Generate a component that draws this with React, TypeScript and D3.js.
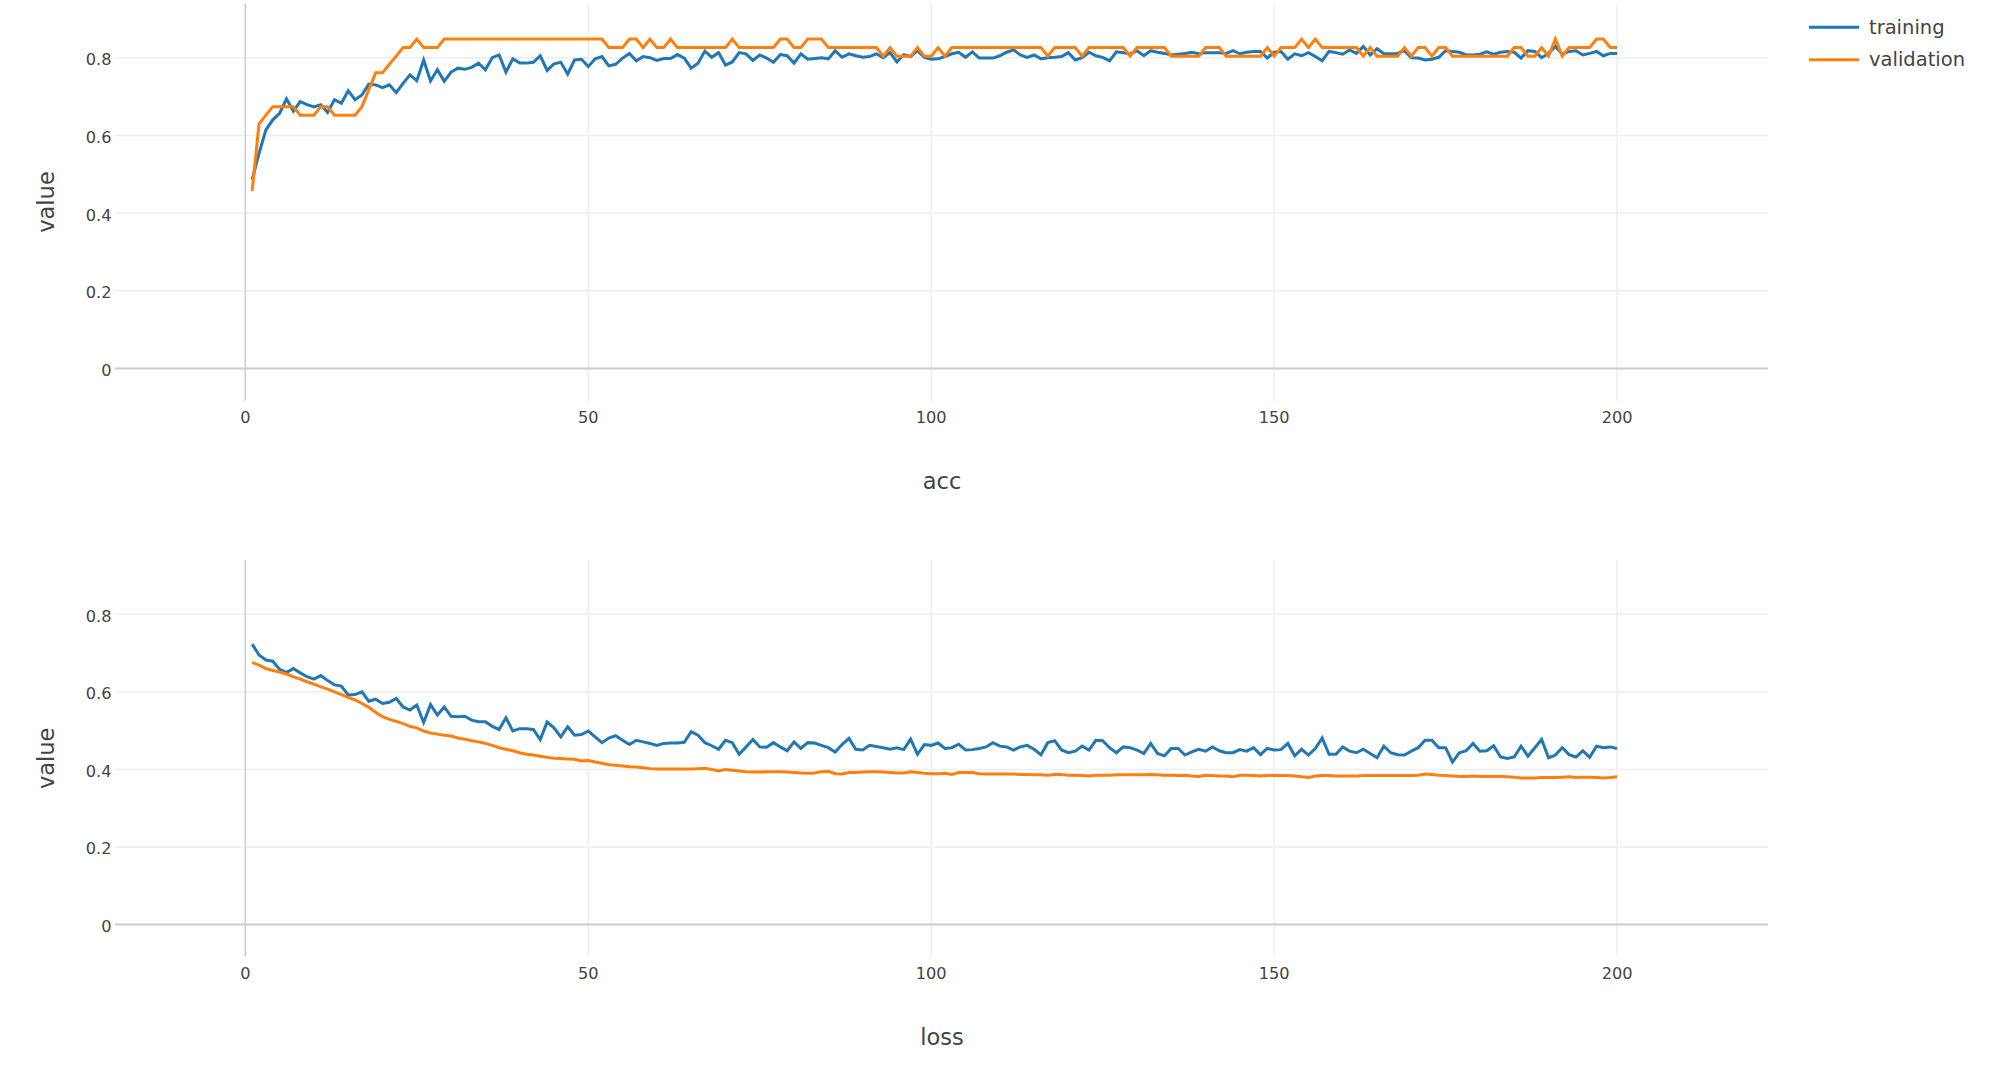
import React from "react";
import * as d3 from "d3";

const epochs: number[] = Array.from({ length: 200 }, (_, i) => i + 1);

const accTraining: number[] = [
  0.486, 0.554, 0.614, 0.640, 0.657, 0.694, 0.662, 0.687, 0.679, 0.673,
  0.679, 0.659, 0.692, 0.683, 0.715, 0.692, 0.704, 0.732, 0.730, 0.723,
  0.730, 0.710, 0.734, 0.756, 0.741, 0.794, 0.740, 0.769, 0.739, 0.763,
  0.773, 0.770, 0.775, 0.786, 0.769, 0.800, 0.807, 0.763, 0.797, 0.786,
  0.786, 0.788, 0.805, 0.767, 0.784, 0.788, 0.758, 0.794, 0.796, 0.777,
  0.797, 0.803, 0.779, 0.783, 0.799, 0.811, 0.792, 0.803, 0.800, 0.793,
  0.798, 0.798, 0.808, 0.799, 0.773, 0.786, 0.817, 0.801, 0.813, 0.781,
  0.789, 0.813, 0.810, 0.793, 0.807, 0.799, 0.788, 0.808, 0.805, 0.786,
  0.810, 0.796, 0.798, 0.800, 0.797, 0.818, 0.801, 0.810, 0.805, 0.801,
  0.803, 0.810, 0.800, 0.813, 0.789, 0.808, 0.803, 0.818, 0.801, 0.796,
  0.797, 0.803, 0.810, 0.814, 0.801, 0.815, 0.799, 0.799, 0.799, 0.805,
  0.814, 0.820, 0.807, 0.801, 0.807, 0.797, 0.800, 0.801, 0.803, 0.813,
  0.794, 0.800, 0.814, 0.805, 0.801, 0.792, 0.815, 0.813, 0.809, 0.818,
  0.805, 0.818, 0.814, 0.811, 0.807, 0.809, 0.811, 0.814, 0.810, 0.813,
  0.813, 0.813, 0.811, 0.818, 0.810, 0.814, 0.816, 0.816, 0.799, 0.814,
  0.816, 0.796, 0.810, 0.805, 0.813, 0.803, 0.792, 0.816, 0.813, 0.809,
  0.820, 0.811, 0.829, 0.807, 0.823, 0.810, 0.810, 0.811, 0.818, 0.800,
  0.799, 0.794, 0.796, 0.801, 0.818, 0.816, 0.814, 0.807, 0.807, 0.809,
  0.815, 0.809, 0.814, 0.816, 0.814, 0.799, 0.818, 0.816, 0.800, 0.811,
  0.829, 0.809, 0.816, 0.818, 0.807, 0.811, 0.816, 0.805, 0.811, 0.811,
];

const accValidation: number[] = [
  0.457, 0.630, 0.652, 0.674, 0.674, 0.674, 0.674, 0.652, 0.652, 0.652,
  0.674, 0.674, 0.652, 0.652, 0.652, 0.652, 0.674, 0.717, 0.761, 0.761,
  0.783, 0.804, 0.826, 0.826, 0.848, 0.826, 0.826, 0.826, 0.848, 0.848,
  0.848, 0.848, 0.848, 0.848, 0.848, 0.848, 0.848, 0.848, 0.848, 0.848,
  0.848, 0.848, 0.848, 0.848, 0.848, 0.848, 0.848, 0.848, 0.848, 0.848,
  0.848, 0.848, 0.826, 0.826, 0.826, 0.848, 0.848, 0.826, 0.848, 0.826,
  0.826, 0.848, 0.826, 0.826, 0.826, 0.826, 0.826, 0.826, 0.826, 0.826,
  0.848, 0.826, 0.826, 0.826, 0.826, 0.826, 0.826, 0.848, 0.848, 0.826,
  0.826, 0.848, 0.848, 0.848, 0.826, 0.826, 0.826, 0.826, 0.826, 0.826,
  0.826, 0.826, 0.804, 0.826, 0.804, 0.804, 0.804, 0.826, 0.804, 0.804,
  0.826, 0.804, 0.826, 0.826, 0.826, 0.826, 0.826, 0.826, 0.826, 0.826,
  0.826, 0.826, 0.826, 0.826, 0.826, 0.826, 0.804, 0.826, 0.826, 0.826,
  0.826, 0.804, 0.826, 0.826, 0.826, 0.826, 0.826, 0.826, 0.804, 0.826,
  0.826, 0.826, 0.826, 0.826, 0.804, 0.804, 0.804, 0.804, 0.804, 0.826,
  0.826, 0.826, 0.804, 0.804, 0.804, 0.804, 0.804, 0.804, 0.826, 0.804,
  0.826, 0.826, 0.826, 0.848, 0.826, 0.848, 0.826, 0.826, 0.826, 0.826,
  0.826, 0.826, 0.804, 0.826, 0.804, 0.804, 0.804, 0.804, 0.826, 0.804,
  0.826, 0.826, 0.804, 0.826, 0.826, 0.804, 0.804, 0.804, 0.804, 0.804,
  0.804, 0.804, 0.804, 0.804, 0.826, 0.826, 0.804, 0.804, 0.826, 0.804,
  0.848, 0.804, 0.826, 0.826, 0.826, 0.826, 0.848, 0.848, 0.826, 0.826,
];

const lossTraining: number[] = [
  0.723, 0.695, 0.682, 0.679, 0.658, 0.650, 0.660, 0.649, 0.639, 0.633,
  0.642, 0.629, 0.618, 0.615, 0.592, 0.593, 0.600, 0.576, 0.581, 0.570,
  0.573, 0.583, 0.561, 0.553, 0.566, 0.521, 0.567, 0.540, 0.561, 0.537,
  0.536, 0.537, 0.527, 0.523, 0.523, 0.511, 0.503, 0.533, 0.499, 0.505,
  0.505, 0.503, 0.477, 0.522, 0.507, 0.484, 0.510, 0.488, 0.490, 0.499,
  0.484, 0.469, 0.481, 0.487, 0.475, 0.464, 0.475, 0.471, 0.467, 0.462,
  0.467, 0.468, 0.468, 0.470, 0.497, 0.488, 0.469, 0.461, 0.452, 0.475,
  0.469, 0.439, 0.458, 0.477, 0.458, 0.457, 0.469, 0.458, 0.448, 0.471,
  0.454, 0.469, 0.468, 0.462, 0.456, 0.445, 0.464, 0.480, 0.452, 0.450,
  0.462, 0.459, 0.456, 0.452, 0.456, 0.451, 0.478, 0.439, 0.464, 0.462,
  0.468, 0.454, 0.456, 0.465, 0.450, 0.451, 0.454, 0.458, 0.469, 0.460,
  0.458, 0.450, 0.458, 0.462, 0.452, 0.438, 0.469, 0.474, 0.450, 0.443,
  0.447, 0.460, 0.450, 0.475, 0.474, 0.456, 0.443, 0.458, 0.456, 0.450,
  0.441, 0.467, 0.441, 0.435, 0.454, 0.454, 0.437, 0.445, 0.452, 0.447,
  0.458, 0.448, 0.443, 0.443, 0.451, 0.447, 0.456, 0.438, 0.454, 0.450,
  0.451, 0.467, 0.435, 0.452, 0.437, 0.454, 0.481, 0.439, 0.439, 0.458,
  0.447, 0.443, 0.452, 0.441, 0.430, 0.460, 0.443, 0.438, 0.437, 0.447,
  0.456, 0.475, 0.475, 0.456, 0.456, 0.419, 0.443, 0.448, 0.467, 0.447,
  0.448, 0.461, 0.432, 0.428, 0.432, 0.460, 0.434, 0.456, 0.477, 0.430,
  0.437, 0.456, 0.438, 0.432, 0.448, 0.431, 0.460, 0.456, 0.458, 0.454,
];

const lossValidation: number[] = [
  0.676, 0.669, 0.660, 0.655, 0.651, 0.646, 0.639, 0.633, 0.626, 0.620,
  0.613, 0.607, 0.600, 0.593, 0.586, 0.579, 0.570, 0.560, 0.547, 0.536,
  0.529, 0.524, 0.518, 0.511, 0.507, 0.499, 0.494, 0.491, 0.488, 0.486,
  0.481, 0.478, 0.474, 0.471, 0.467, 0.462, 0.456, 0.452, 0.448, 0.443,
  0.439, 0.437, 0.434, 0.431, 0.429, 0.428, 0.427, 0.426, 0.422, 0.423,
  0.419, 0.416, 0.412, 0.411, 0.409, 0.407, 0.406, 0.404, 0.402, 0.401,
  0.401, 0.401, 0.401, 0.401, 0.401, 0.402, 0.403, 0.400, 0.396, 0.400,
  0.398, 0.396, 0.394, 0.393, 0.393, 0.394, 0.394, 0.394, 0.393, 0.392,
  0.391, 0.390, 0.391, 0.394, 0.395, 0.389, 0.388, 0.392, 0.392, 0.393,
  0.394, 0.394, 0.393, 0.392, 0.391, 0.391, 0.394, 0.392, 0.390, 0.389,
  0.389, 0.390, 0.387, 0.392, 0.392, 0.392, 0.389, 0.388, 0.388, 0.388,
  0.388, 0.388, 0.387, 0.387, 0.386, 0.386, 0.385, 0.387, 0.387, 0.385,
  0.385, 0.384, 0.383, 0.385, 0.385, 0.385, 0.386, 0.386, 0.386, 0.386,
  0.386, 0.387, 0.386, 0.385, 0.385, 0.384, 0.385, 0.383, 0.382, 0.385,
  0.384, 0.383, 0.383, 0.381, 0.385, 0.385, 0.384, 0.383, 0.384, 0.385,
  0.384, 0.384, 0.383, 0.381, 0.379, 0.383, 0.384, 0.384, 0.383, 0.383,
  0.383, 0.383, 0.384, 0.384, 0.384, 0.384, 0.384, 0.384, 0.384, 0.384,
  0.385, 0.388, 0.387, 0.385, 0.384, 0.383, 0.382, 0.382, 0.383, 0.382,
  0.382, 0.382, 0.382, 0.381, 0.380, 0.378, 0.378, 0.378, 0.379, 0.379,
  0.379, 0.380, 0.381, 0.379, 0.380, 0.380, 0.379, 0.378, 0.379, 0.381,
];

const xTicks: number[] = [0, 50, 100, 150, 200];
const yTicks: number[] = [0, 0.2, 0.4, 0.6, 0.8];
const seriesNames: string[] = ["training", "validation"];
const seriesColors: string[] = ["#1f77b4", "#ff7f0e"];

const W = 2000;
const H = 1074;
const FONT = "'DejaVu Sans', 'Open Sans', Verdana, sans-serif";
const TEXT = "#444";

const xScale = d3.scaleLinear().domain([-19, 222]).range([115, 1768]);

type Panel = {
  title: string;
  top: number;
  bottom: number;
  series: number[][];
};

const panels: Panel[] = [
  { title: "acc", top: 3.3, bottom: 400.7, series: [accTraining, accValidation] },
  { title: "loss", top: 560, bottom: 956.7, series: [lossTraining, lossValidation] },
];

function PanelView({ p }: { p: Panel }) {
  const y = d3.scaleLinear().domain([-0.083, 0.94]).range([p.bottom, p.top]);
  const x0 = xScale.range()[0];
  const x1 = xScale.range()[1];
  const line = d3
    .line<number>()
    .x((_, i) => xScale(epochs[i]))
    .y((d) => y(d));
  return (
    <g>
      {yTicks
        .filter((t) => t !== 0)
        .map((t) => (
          <line key={"hy" + t} x1={x0} x2={x1} y1={y(t)} y2={y(t)} stroke="#eeeeee" strokeWidth={1.5} />
        ))}
      {xTicks
        .filter((t) => t !== 0)
        .map((t) => (
          <line key={"vx" + t} x1={xScale(t)} x2={xScale(t)} y1={p.top} y2={p.bottom} stroke="#eeeeee" strokeWidth={1.5} />
        ))}
      <line x1={xScale(0)} x2={xScale(0)} y1={p.top} y2={p.bottom} stroke="#cccccc" strokeWidth={1.5} />
      <line x1={x0} x2={x1} y1={y(0)} y2={y(0)} stroke="#cccccc" strokeWidth={2} />
      {p.series.map((s, k) => (
        <path key={"s" + k} d={line(s) || ""} fill="none" stroke={seriesColors[k]} strokeWidth={3} />
      ))}
      {yTicks.map((t) => (
        <text key={"yl" + t} x={111.5} y={y(t) + 7.5} textAnchor="end" fontSize={16.2} fill={TEXT} fontFamily={FONT}>
          {String(t)}
        </text>
      ))}
      {xTicks.map((t) => (
        <text key={"xl" + t} x={xScale(t)} y={p.bottom + 22} textAnchor="middle" fontSize={16.2} fill={TEXT} fontFamily={FONT}>
          {String(t)}
        </text>
      ))}
      <text
        transform={`translate(53.5, ${(p.top + p.bottom) / 2}) rotate(-90)`}
        textAnchor="middle"
        fontSize={22.5}
        fill={TEXT}
        fontFamily={FONT}
      >
        value
      </text>
      <text x={942} y={p.bottom + 88.5} textAnchor="middle" fontSize={22.5} fill={TEXT} fontFamily={FONT}>
        {p.title}
      </text>
    </g>
  );
}

export default function App() {
  return (
    <svg
      width={W}
      height={H}
      viewBox={`0 0 ${W} ${H}`}
      style={{ position: "absolute", left: 0, top: 0, background: "#fff" }}
    >
      <rect x={0} y={0} width={W} height={H} fill="#fff" />
      {panels.map((p) => (
        <PanelView key={p.title} p={p} />
      ))}
      {seriesNames.map((n, k) => {
        const ly = 27.3 + k * 32.4;
        return (
          <g key={n}>
            <line x1={1809} x2={1859} y1={ly} y2={ly} stroke={seriesColors[k]} strokeWidth={3} />
            <text x={1869} y={ly + 6.5} fontSize={19.5} fill={TEXT} fontFamily={FONT}>
              {n}
            </text>
          </g>
        );
      })}
    </svg>
  );
}
